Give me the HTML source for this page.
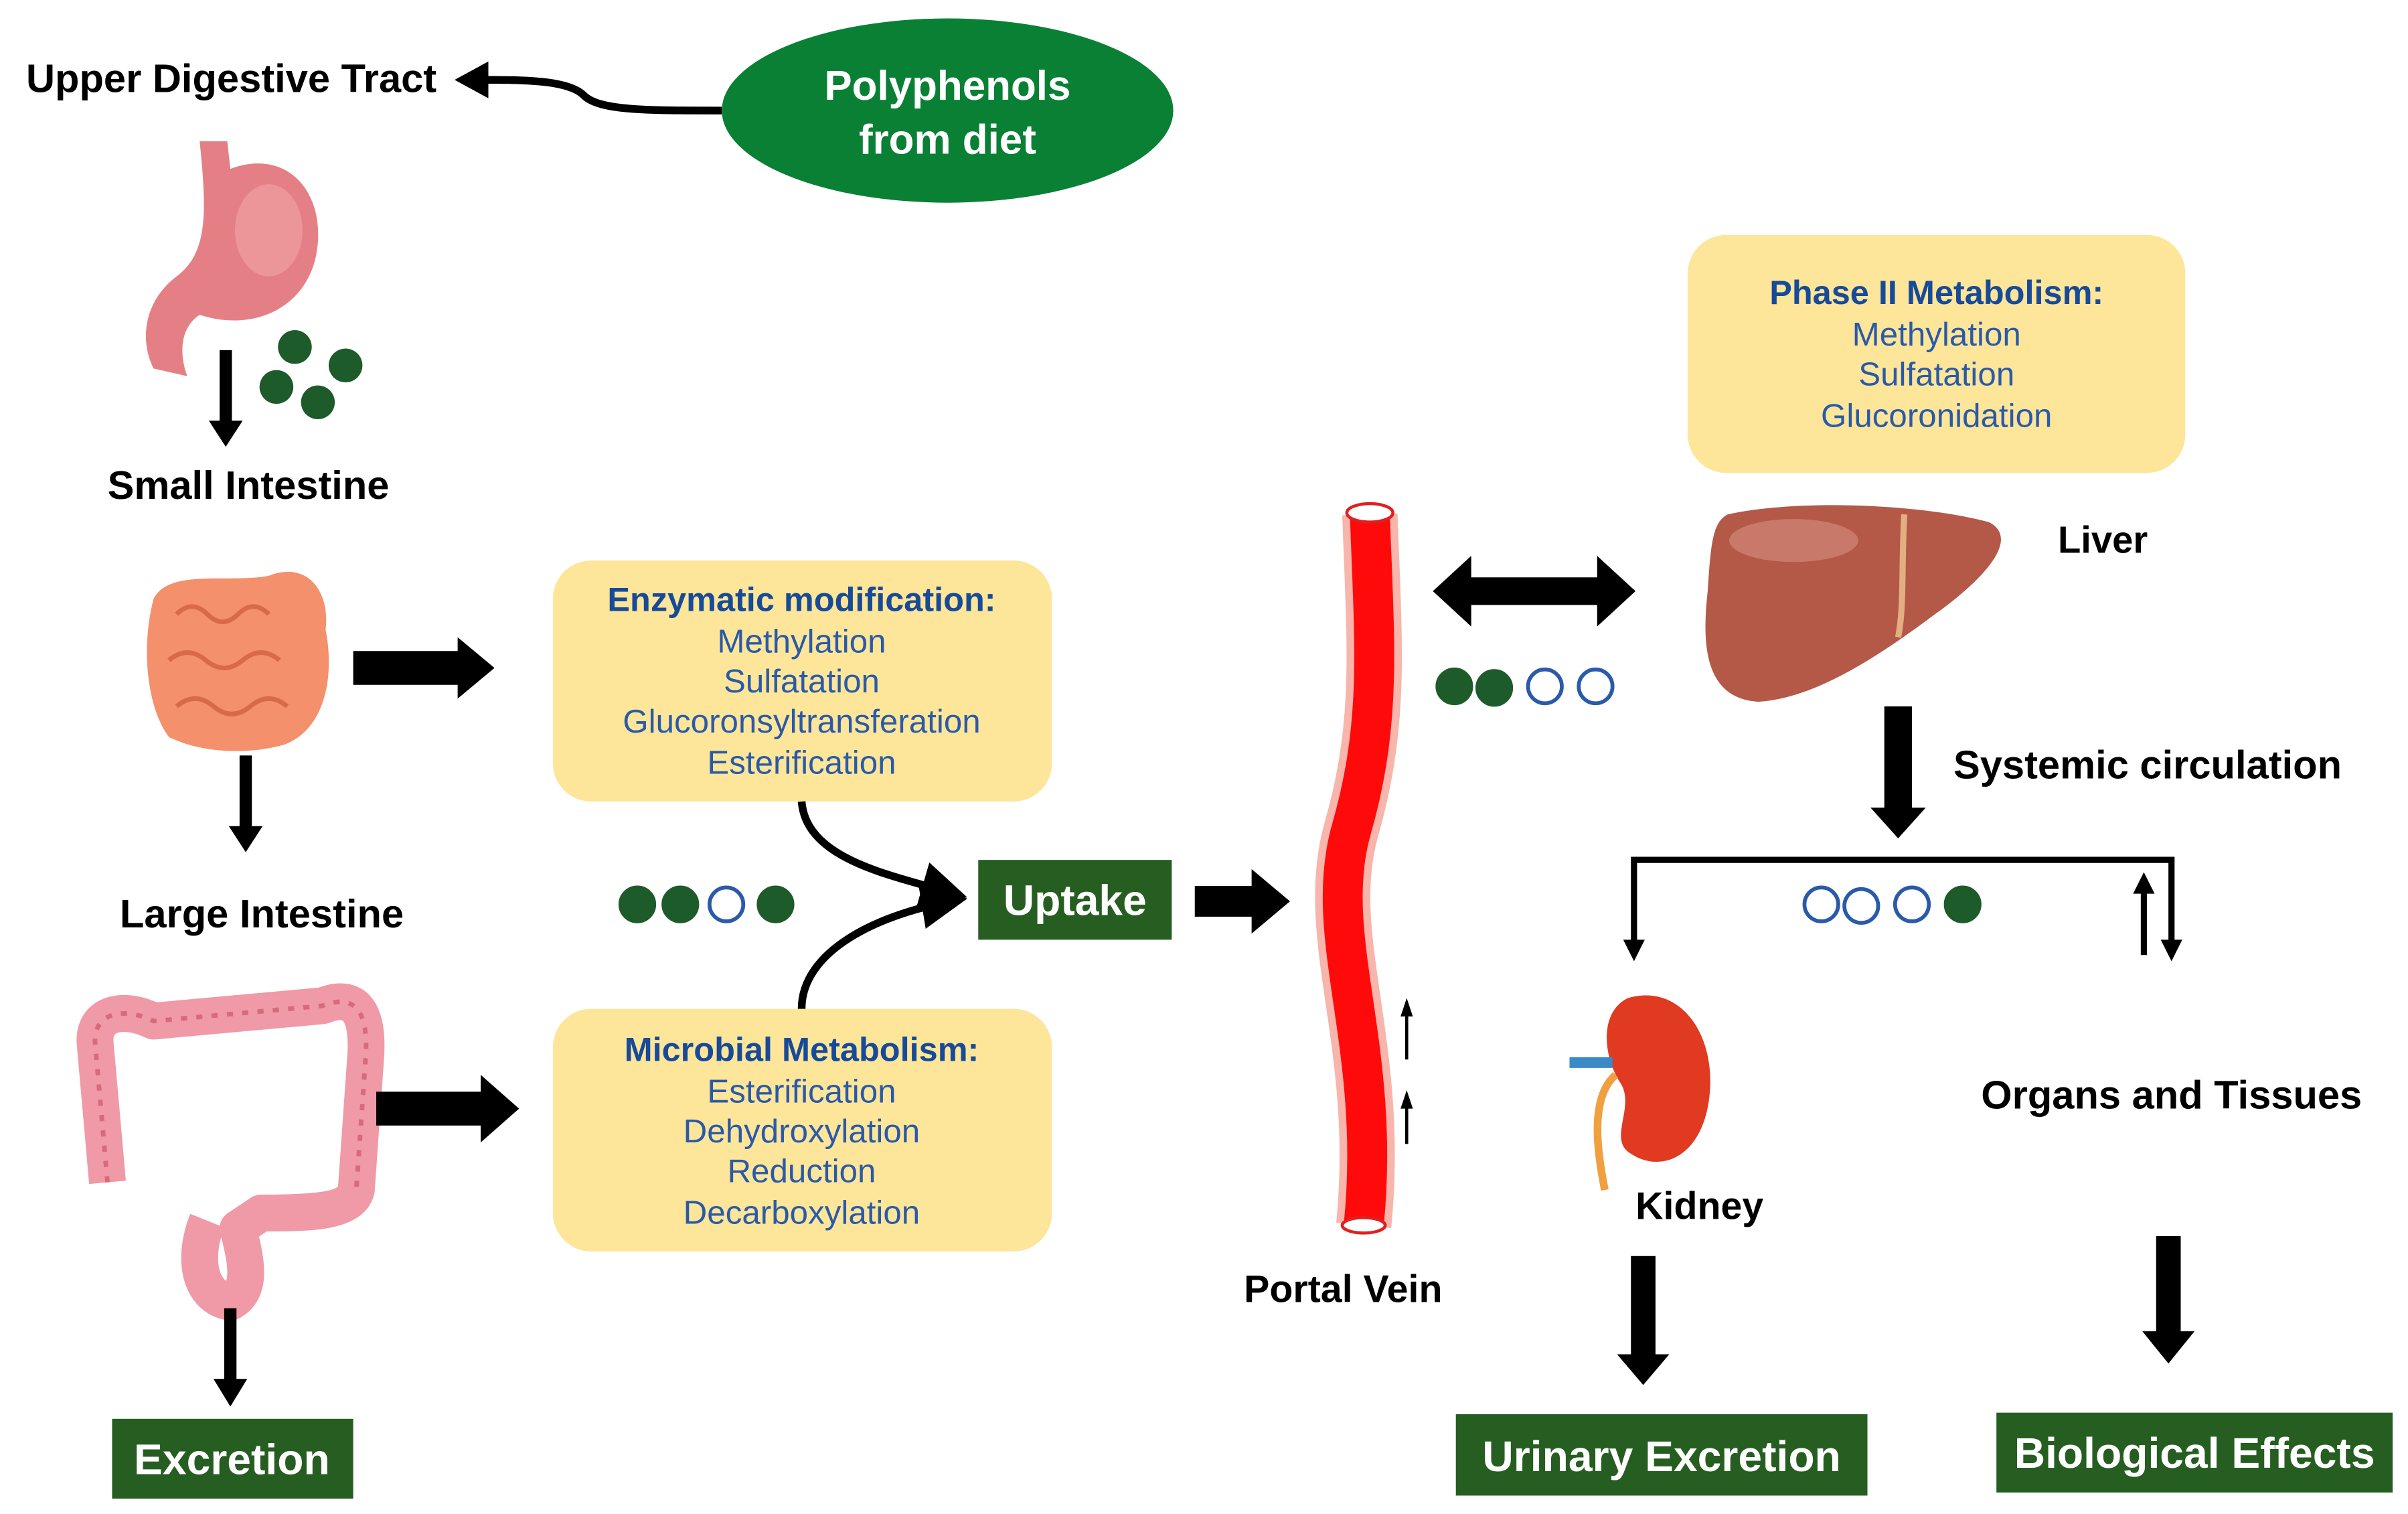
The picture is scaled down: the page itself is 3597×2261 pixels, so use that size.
<!DOCTYPE html>
<html><head><meta charset="utf-8"><style>
html,body{margin:0;padding:0;background:#fff;}
svg{display:block;}
text{font-family:"Liberation Sans",sans-serif;}
.b{font-weight:bold;fill:#000;font-size:26px;}
.t{fill:#2a5aa8;font-size:21.5px;text-anchor:middle;}
.h{fill:#174a98;font-size:22px;font-weight:bold;text-anchor:middle;}
.w{fill:#fff;font-weight:bold;font-size:28px;text-anchor:middle;}
</style></head><body>
<svg width="3597" height="2261" viewBox="0 0 1568 986" preserveAspectRatio="none" xmlns="http://www.w3.org/2000/svg">
<defs>
<marker id="ah" markerWidth="6" markerHeight="6" refX="5" refY="3" orient="auto" markerUnits="strokeWidth"><path d="M0,0 L6,3 L0,6 z" fill="#000"/></marker>
</defs>
<rect width="1568" height="986" fill="#fff"/>

<text class="b" x="17" y="60">Upper Digestive Tract</text>
<path d="M470,72 C420,72 390,72 380,62 C370,52 340,52 312,52" stroke="#000" stroke-width="5" fill="none"/>
<path d="M318,40 L296,52 L318,64 Z" fill="#000"/>
<ellipse cx="617" cy="72" rx="147" ry="60" fill="#0a8035"/>
<text class="w" x="617" y="65" style="font-size:27px">Polyphenols</text>
<text class="w" x="617" y="100" style="font-size:27px">from diet</text>

<path d="M130,92 L148,92 L150,110 C190,95 215,130 205,170 C195,205 160,215 130,205 C115,215 118,235 122,245 L100,240 C90,220 95,195 115,180 C135,165 135,140 130,92 Z" fill="#e57f86"/>
<ellipse cx="175" cy="150" rx="22" ry="30" fill="#f0a5a8" opacity="0.6"/>
<g fill="#1e5b2a"><circle cx="192" cy="226" r="11"/><circle cx="225" cy="238" r="11"/><circle cx="180" cy="252" r="11"/><circle cx="207" cy="262" r="11"/></g>
<path d="M147,228 L147,276" stroke="#000" stroke-width="8"/>
<path d="M136,274 L147,291 L158,274 Z" fill="#000"/>
<text class="b" x="70" y="325">Small Intestine</text>

<path d="M100,390 C110,370 150,380 175,375 C200,365 215,385 212,410 C218,440 212,475 185,485 C160,492 130,490 110,480 C95,460 92,420 100,390 Z" fill="#f4906c"/>
<path d="M115,400 q10,-10 20,0 q10,10 20,0 q10,-10 20,0 M110,430 q12,-10 24,0 q12,10 24,0 q12,-10 24,0 M115,460 q12,-10 24,0 q12,10 24,0 q12,-10 24,0" stroke="#d76a4a" stroke-width="3" fill="none"/>
<path d="M230,435 L300,435" stroke="#000" stroke-width="22" fill="none"/>
<path d="M298,415 L322,435 L298,455 Z" fill="#000"/>
<path d="M160,492 L160,540" stroke="#000" stroke-width="8"/>
<path d="M149,538 L160,555 L171,538 Z" fill="#000"/>
<text class="b" x="78" y="604">Large Intestine</text>

<path d="M70,770 L62,680 C60,660 80,655 100,665 L210,655 C235,645 240,665 238,690 L232,775 C228,790 200,790 170,790 L155,800 C160,820 165,840 150,848 C130,845 125,820 135,795" stroke="#ef9aa6" stroke-width="24" fill="none" stroke-linejoin="round"/>
<path d="M70,770 L62,680 C60,660 80,655 100,665 L210,655 C235,645 240,665 238,690 L232,775" stroke="#d86a7a" stroke-width="3" stroke-dasharray="4 6" fill="none"/>
<path d="M245,722 L315,722" stroke="#000" stroke-width="22"/>
<path d="M313,700 L338,722 L313,744 Z" fill="#000"/>
<path d="M150,852 L150,900" stroke="#000" stroke-width="8"/>
<path d="M139,898 L150,916 L161,898 Z" fill="#000"/>
<rect x="73" y="924" width="157" height="52" fill="#265e21"/>
<text class="w" x="151" y="960">Excretion</text>

<rect x="360" y="365" width="325" height="157" rx="25" fill="#fde59a"/>
<text class="h" x="522" y="398">Enzymatic modification:</text>
<text class="t" x="522" y="425">Methylation</text>
<text class="t" x="522" y="451">Sulfatation</text>
<text class="t" x="522" y="477">Glucoronsyltransferation</text>
<text class="t" x="522" y="504">Esterification</text>

<rect x="360" y="657" width="325" height="158" rx="25" fill="#fde59a"/>
<text class="h" x="522" y="691">Microbial Metabolism:</text>
<text class="t" x="522" y="718">Esterification</text>
<text class="t" x="522" y="744">Dehydroxylation</text>
<text class="t" x="522" y="770">Reduction</text>
<text class="t" x="522" y="797">Decarboxylation</text>

<g stroke="#1e5b2a" stroke-width="2.5">
<circle cx="415" cy="589" r="11" fill="#1e5b2a"/><circle cx="443" cy="589" r="11" fill="#1e5b2a"/><circle cx="473" cy="589" r="11" fill="#fff" stroke="#2a5aa8"/><circle cx="505" cy="589" r="11" fill="#1e5b2a"/>
</g>
<path d="M522,522 C525,560 580,570 625,583" stroke="#000" stroke-width="5" fill="none" marker-end="url(#ah)"/>
<path d="M522,657 C522,620 570,595 625,586" stroke="#000" stroke-width="5" fill="none" marker-end="url(#ah)"/>
<rect x="637" y="560" width="126" height="52" fill="#265e21"/>
<text class="w" x="700" y="596">Uptake</text>
<path d="M778,587 L818,587" stroke="#000" stroke-width="20"/>
<path d="M815,566 L840,587 L815,608 Z" fill="#000"/>

<path d="M892,335 C895,420 900,470 880,540 C860,610 900,680 888,798" stroke="#f7b5ac" stroke-width="36" fill="none"/>
<path d="M892,335 C895,420 900,470 880,540 C860,610 900,680 888,798" stroke="#ff0a0a" stroke-width="26" fill="none"/>
<ellipse cx="892" cy="334" rx="15" ry="6" fill="#fff" stroke="#e02020" stroke-width="2"/>
<ellipse cx="888" cy="798" rx="14" ry="5" fill="#fff" stroke="#e02020" stroke-width="2"/>
<path d="M916,690 L916,660" stroke="#000" stroke-width="2"/>
<path d="M912,662 L916,650 L920,662 Z" fill="#000"/>
<path d="M916,745 L916,720" stroke="#000" stroke-width="2"/>
<path d="M912,722 L916,710 L920,722 Z" fill="#000"/>
<text class="b" x="810" y="848" style="font-size:25px">Portal Vein</text>

<path d="M955,385 L1042,385" stroke="#000" stroke-width="18"/>
<path d="M958,362 L933,385 L958,408 Z M1040,362 L1065,385 L1040,408 Z" fill="#000"/>
<g stroke="#1e5b2a" stroke-width="2.5">
<circle cx="947" cy="447" r="11" fill="#1e5b2a"/><circle cx="973" cy="448" r="11" fill="#1e5b2a"/><circle cx="1006" cy="447" r="11" fill="#fff" stroke="#2a5aa8"/><circle cx="1039" cy="447" r="11" fill="#fff" stroke="#2a5aa8"/>
</g>

<rect x="1099" y="153" width="324" height="155" rx="25" fill="#fde59a"/>
<text class="h" x="1261" y="198">Phase II Metabolism:</text>
<text class="t" x="1261" y="225">Methylation</text>
<text class="t" x="1261" y="251">Sulfatation</text>
<text class="t" x="1261" y="278">Glucoronidation</text>

<path d="M1125,335 C1170,325 1250,328 1295,340 C1315,350 1295,375 1260,400 C1220,430 1180,455 1145,457 C1110,455 1108,420 1112,385 C1114,355 1115,340 1125,335 Z" fill="#b45848"/>
<ellipse cx="1168" cy="352" rx="42" ry="14" fill="#d08878" opacity="0.7"/>
<path d="M1240,335 C1238,370 1240,395 1236,415" stroke="#e2b080" stroke-width="4" fill="none"/>
<text class="b" x="1340" y="360" style="font-size:24.5px">Liver</text>

<path d="M1236,460 L1236,530" stroke="#000" stroke-width="18"/>
<path d="M1218,526 L1236,546 L1254,526 Z" fill="#000"/>
<text class="b" x="1272" y="507">Systemic circulation</text>

<path d="M1064,618 L1064,560 L1414,560 L1414,618" stroke="#000" stroke-width="4" fill="none"/>
<path d="M1057,612 L1064,626 L1071,612 Z M1407,612 L1414,626 L1421,612 Z M1389,582 L1396,568 L1403,582 Z" fill="#000"/>
<path d="M1396,622 L1396,578" stroke="#000" stroke-width="4"/>
<g stroke-width="2.5">
<circle cx="1186" cy="589" r="11" fill="#fff" stroke="#2a5aa8"/><circle cx="1212" cy="590" r="11" fill="#fff" stroke="#2a5aa8"/><circle cx="1245" cy="589" r="11" fill="#fff" stroke="#2a5aa8"/><circle cx="1278" cy="589" r="11" fill="#1e5b2a" stroke="#1e5b2a"/>
</g>

<path d="M1060,650 C1095,640 1118,675 1113,715 C1108,755 1080,765 1060,750 C1048,740 1065,720 1055,705 C1045,690 1040,660 1060,650 Z" fill="#e03a20"/>
<path d="M1052,700 C1035,715 1040,750 1045,775" stroke="#f0a040" stroke-width="5" fill="none"/>
<path d="M1022,692 L1050,692" stroke="#3a8ac8" stroke-width="7"/>
<text class="b" x="1065" y="794" style="font-size:25px">Kidney</text>
<text class="b" x="1290" y="722">Organs and Tissues</text>

<path d="M1070,818 L1070,885" stroke="#000" stroke-width="16"/>
<path d="M1053,882 L1070,902 L1087,882 Z" fill="#000"/>
<path d="M1412,805 L1412,870" stroke="#000" stroke-width="16"/>
<path d="M1395,867 L1412,888 L1429,867 Z" fill="#000"/>
<rect x="948" y="921" width="268" height="53" fill="#265e21"/>
<text class="w" x="1082" y="958">Urinary Excretion</text>
<rect x="1300" y="920" width="258" height="52" fill="#265e21"/>
<text class="w" x="1429" y="956">Biological Effects</text>
</svg>
</body></html>
